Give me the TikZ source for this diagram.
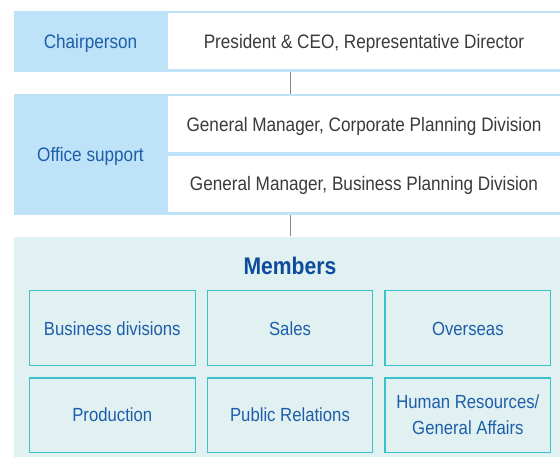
\documentclass[tikz,border=0pt]{standalone}
\usepackage{fontspec}
\setmainfont[FakeStretch=0.88]{Liberation Sans}
\definecolor{lblue}{HTML}{BEE3F8}
\definecolor{panel}{HTML}{E1F0F0}
\definecolor{boxline}{HTML}{3CC0CC}
\definecolor{tblue}{HTML}{1D5EAA}
\definecolor{dblue}{HTML}{0B4C9C}
\definecolor{tgray}{HTML}{3A3A3A}
\definecolor{lgray}{HTML}{8A8A8A}
\tikzset{
  capcenter/.style={text height=#1, text depth=0pt},
  band/.style={fill=lblue, draw=none, inner sep=0pt},
  whitecell/.style={fill=white, draw=none, inner sep=0pt, text=tgray, capcenter=14pt,
    font=\fontsize{19.5}{23}\selectfont},
  lefttext/.style={inner sep=0pt, text=tblue, capcenter=14pt, font=\fontsize{19.5}{23}\selectfont},
  panelbox/.style={fill=panel, draw=none, inner sep=0pt},
  memberbox/.style={draw=boxline, line width=1.3pt, fill=panel, inner sep=0pt,
    text=tblue, align=center, font=\fontsize{19}{26}\selectfont},
  titletext/.style={inner sep=0pt, text=dblue, capcenter=17.2pt, font=\fontsize{24}{28}\selectfont\bfseries},
  conn/.style={draw=lgray, line width=1pt}
}
\begin{document}
\begin{tikzpicture}[x=1pt,y=-1pt]
\useasboundingbox[fill=white] (0,0) rectangle (560,457);
% top band
\node[band, minimum width=546pt, minimum height=61pt] (band1) at (287,41.5) {};
\node[lefttext] (chair) at (90.5,41.5) {Chairperson};
\node[whitecell, minimum width=392pt, minimum height=55.5pt] (pres) at (364,41.25) {President \& CEO, Representative Director};
% second band
\node[band, minimum width=546pt, minimum height=121pt] (band2) at (287,154.5) {};
\node[lefttext] (office) at (90.5,155) {Office support};
\node[whitecell, minimum width=392pt, minimum height=56pt] (gmc) at (364,124.5) {General Manager, Corporate Planning Division};
\node[whitecell, minimum width=392pt, minimum height=56pt] (gmb) at (364,184) {General Manager, Business Planning Division};
% members panel
\node[panelbox, minimum width=546pt, minimum height=220.3pt] (panel) at (287,346.85) {};
\node[titletext] (title) at (290,265.5) {Members};
\node[memberbox, capcenter=13.6pt, minimum width=166pt, minimum height=75pt] (bd) at (112.3,328.2) {Business divisions};
\node[memberbox, capcenter=13.6pt, minimum width=165.4pt, minimum height=75pt] (sales) at (290,328.2) {Sales};
\node[memberbox, capcenter=13.6pt, minimum width=165.7pt, minimum height=75pt] (over) at (467.85,328.2) {Overseas};
\node[memberbox, capcenter=13.6pt, minimum width=166pt, minimum height=74.3pt] (prod) at (112.3,415.15) {Production};
\node[memberbox, capcenter=13.6pt, minimum width=165.4pt, minimum height=74.3pt] (pr) at (290,415.15) {Public Relations};
\node[memberbox, capcenter=39.6pt, minimum width=165.7pt, minimum height=74.3pt] (hr) at (467.85,415.15) {Human Resources/\\General Affairs};
% connectors
\draw[conn] (band1.south -| title) -- (band2.north -| title);
\draw[conn] (band2.south -| title) -- (panel.north -| title);
\end{tikzpicture}
\end{document}
